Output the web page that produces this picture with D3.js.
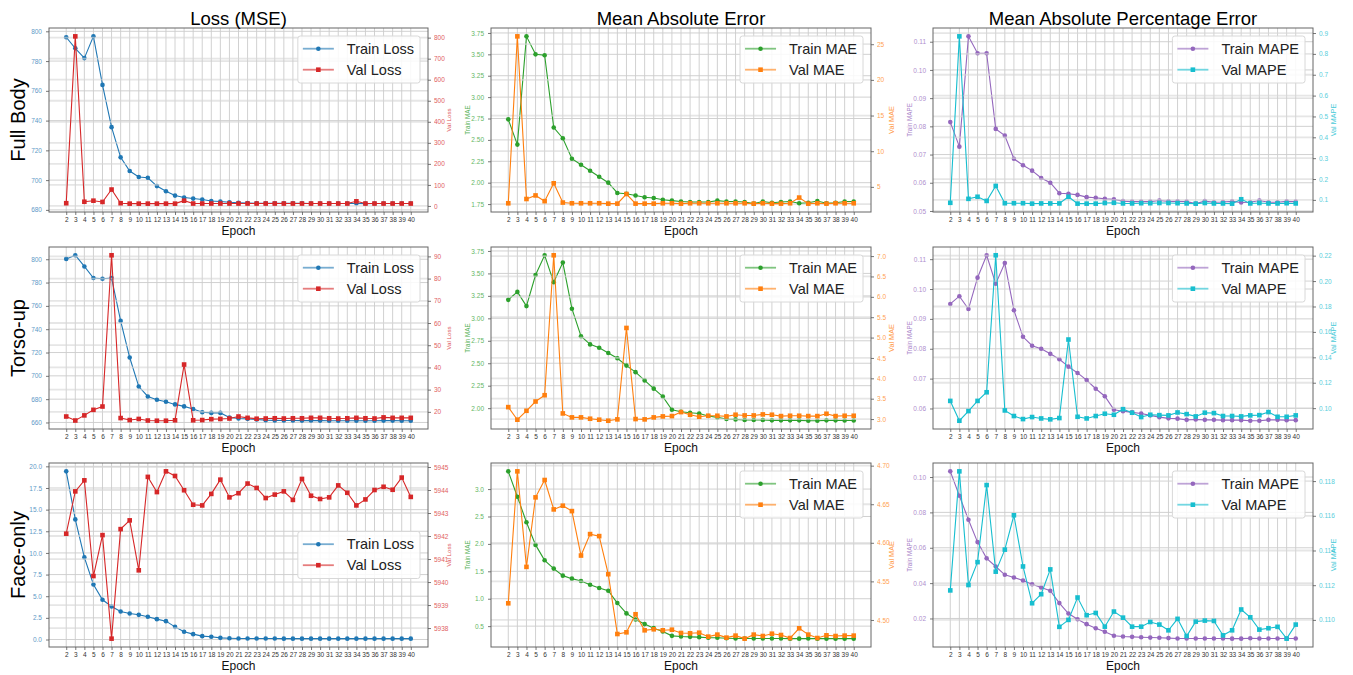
<!DOCTYPE html>
<html lang="en">
<head>
<meta charset="UTF-8">
<title>Training metrics</title>
<script src="https://cdn.jsdelivr.net/npm/d3@7"></script>
<style>
  body { margin: 0; background: #fff; }
  text { font-family: "Liberation Sans", Arial, sans-serif; }
</style>
</head>
<body>
<svg id="chart" width="1353" height="675"></svg>
<script>
const epochs = [2,3,4,5,6,7,8,9,10,11,12,13,14,15,16,17,18,19,20,21,22,23,24,25,26,27,28,29,30,31,32,33,34,35,36,37,38,39,40];

const rowNames = ['Full Body', 'Torso-up', 'Face-only'];
const colTitles = ['Loss (MSE)', 'Mean Absolute Error', 'Mean Absolute Percentage Error'];

// Full Body
const fullLossTrain = [796,788.6,782,796.6,764,735.6,715.3,706.1,702.1,701.6,696,692.5,689.6,688.3,687.6,687,686,685.6,685.1,684.8,684.6,684.5,684.5,684.4,684.4,684.4,684.4,684.3,684.3,684.3,684.3,684.3,684.3,684.2,684.3,684.3,684.3,684.3,684.3];
const fullLossVal = [13,806,20,25,19,78,13,11,11,11,11,11,11,25,11.5,11.5,11.5,11.5,11.5,11.5,11.5,11.5,11.5,11.5,11.5,11.5,11.5,11.5,11.5,11.5,11.5,11.5,22,11.5,11.5,11.5,11.5,11.5,11.5];
const fullMaeTrain = [2.74,2.445,3.71,3.5,3.49,2.645,2.52,2.28,2.21,2.14,2.07,2.0,1.88,1.87,1.85,1.83,1.82,1.8,1.79,1.78,1.775,1.775,1.775,1.79,1.78,1.78,1.775,1.755,1.78,1.765,1.775,1.78,1.76,1.765,1.785,1.76,1.765,1.78,1.78];
const fullMaeVal = [2.7,26.1,3.3,3.8,3.0,5.5,2.8,2.7,2.7,2.7,2.7,2.65,2.65,4.0,2.65,2.65,2.65,2.7,2.7,2.65,2.7,2.7,2.7,2.7,2.7,2.7,2.7,2.65,2.7,2.65,2.65,2.7,3.5,2.65,2.7,2.65,2.7,2.7,2.7];
const fullMapeTrain = [0.0815,0.0728,0.1119,0.1059,0.1059,0.0791,0.0767,0.0685,0.0662,0.0643,0.0617,0.06,0.0563,0.0561,0.0557,0.0549,0.0547,0.0543,0.0541,0.0535,0.0533,0.0533,0.0533,0.0537,0.0534,0.0534,0.0533,0.0526,0.0535,0.0531,0.0532,0.0534,0.053,0.0531,0.0537,0.0531,0.0531,0.0534,0.0533];
const fullMapeVal = [0.086,0.884,0.105,0.115,0.095,0.167,0.084,0.084,0.084,0.082,0.083,0.083,0.083,0.115,0.082,0.082,0.082,0.085,0.086,0.083,0.083,0.084,0.084,0.085,0.085,0.084,0.083,0.082,0.085,0.083,0.083,0.082,0.103,0.083,0.085,0.083,0.083,0.084,0.083];

// Torso-up
const torsoLossTrain = [800.3,803.4,793.8,783.9,783.3,783.9,747.1,715.7,690.8,682.3,679.5,677.8,675.5,673.8,671.6,668.8,668.2,668.2,664.2,663.4,663.1,662.5,662.0,661.8,661.7,661.7,661.6,661.7,661.6,661.5,661.5,661.5,661.5,661.5,661.5,661.6,661.6,661.5,661.5];
const torsoLossVal = [17.9,16.1,18.4,20.9,22.4,90.5,17.2,16.3,16.8,16.1,16.0,16.0,16.2,41.3,16.2,16.3,16.7,16.8,17.0,17.9,17.3,16.9,17.0,17.1,17.0,17.1,17.1,17.3,17.3,17.1,17.0,17.1,17.3,17.1,17.0,17.5,17.3,17.3,17.3];
const torsoMaeTrain = [3.206,3.294,3.136,3.482,3.702,3.401,3.621,3.107,2.801,2.71,2.673,2.614,2.555,2.474,2.401,2.309,2.217,2.129,1.982,1.96,1.949,1.941,1.912,1.897,1.879,1.875,1.868,1.868,1.868,1.864,1.864,1.864,1.864,1.86,1.86,1.864,1.864,1.862,1.862];
const torsoMaeVal = [3.293,2.984,3.203,3.431,3.585,7.02,3.138,3.041,3.041,3.008,2.984,2.959,2.992,5.236,3.0,2.992,3.041,3.065,3.073,3.171,3.106,3.057,3.081,3.081,3.065,3.106,3.089,3.089,3.114,3.106,3.073,3.081,3.081,3.073,3.073,3.13,3.073,3.081,3.081];
const torsoMapeTrain = [0.095,0.0976,0.0933,0.1038,0.1113,0.1018,0.1087,0.0929,0.084,0.081,0.08,0.0783,0.0765,0.074,0.0719,0.0695,0.0666,0.0641,0.0596,0.0591,0.0587,0.0583,0.0577,0.0571,0.0567,0.0566,0.0562,0.0563,0.0562,0.0562,0.0561,0.0561,0.0561,0.0559,0.0559,0.0562,0.0562,0.0561,0.0561];
const torsoMapeVal = [0.1057,0.0901,0.0977,0.1057,0.1125,0.2203,0.0982,0.0938,0.0914,0.093,0.0919,0.0912,0.0922,0.154,0.0932,0.0919,0.0938,0.0956,0.0948,0.0992,0.0964,0.093,0.0948,0.0945,0.0943,0.0966,0.0953,0.0935,0.0964,0.0961,0.0938,0.0938,0.0935,0.0943,0.0945,0.0969,0.0932,0.0932,0.0943];

// Face-only
const faceLossTrain = [19.42,13.87,9.48,6.36,4.59,3.82,3.24,3.01,2.85,2.62,2.35,2.12,1.46,0.89,0.62,0.39,0.31,0.19,0.15,0.12,0.11,0.11,0.11,0.11,0.1,0.1,0.1,0.1,0.1,0.1,0.1,0.1,0.1,0.1,0.1,0.1,0.1,0.1,0.1];
const faceLossVal = [5942.10,5943.94,5944.42,5940.26,5942.04,5937.54,5942.30,5942.68,5940.51,5944.57,5943.91,5944.81,5944.61,5943.99,5943.36,5943.33,5943.83,5944.45,5943.68,5943.86,5944.28,5944.09,5943.65,5943.80,5943.94,5943.57,5944.48,5943.75,5943.61,5943.68,5944.20,5943.88,5943.33,5943.59,5944.00,5944.14,5944.01,5944.54,5943.70];
const faceMaeTrain = [3.323,2.86,2.396,1.982,1.701,1.549,1.421,1.366,1.323,1.256,1.195,1.146,0.921,0.732,0.622,0.537,0.463,0.402,0.323,0.311,0.305,0.299,0.287,0.287,0.28,0.274,0.274,0.274,0.274,0.274,0.274,0.272,0.272,0.274,0.272,0.272,0.272,0.272,0.272];
const faceMaeVal = [4.5216,4.6926,4.5688,4.6589,4.6814,4.6433,4.6481,4.6411,4.5835,4.6113,4.6087,4.5593,4.4818,4.484,4.5074,4.4866,4.4879,4.4866,4.4874,4.4831,4.4827,4.4835,4.4784,4.481,4.4771,4.4797,4.4758,4.481,4.4792,4.4822,4.4805,4.4766,4.4892,4.481,4.4766,4.4801,4.4792,4.4797,4.4797];
const faceMapeTrain = [0.1032,0.0894,0.0758,0.0632,0.054,0.0494,0.0447,0.0432,0.0415,0.0394,0.0375,0.0357,0.0287,0.0228,0.0196,0.0168,0.0145,0.0125,0.0102,0.0098,0.0096,0.0094,0.0092,0.0091,0.0089,0.0087,0.0087,0.0087,0.0087,0.0087,0.0087,0.0086,0.0086,0.0088,0.0087,0.0087,0.0087,0.0087,0.0087];
const faceMapeVal = [0.1117,0.11856,0.11201,0.11333,0.11777,0.11278,0.11405,0.11603,0.11308,0.11096,0.11148,0.11291,0.1096,0.11,0.11129,0.11027,0.1104,0.10961,0.11048,0.11013,0.10961,0.10961,0.10988,0.10973,0.1094,0.11006,0.10907,0.1099,0.10996,0.10994,0.10911,0.1094,0.1106,0.11015,0.10944,0.10952,0.1096,0.10892,0.10973];

// tick values per panel
const fullLossTicks = [680,700,720,740,760,780,800];
const fullValLossTicks = [0,100,200,300,400,500,600,700,800];
const fullMaeTicks = [1.75,2.0,2.25,2.5,2.75,3.0,3.25,3.5,3.75];
const fullValMaeTicks = [5,10,15,20,25];
const fullMapeTicks = [0.05,0.06,0.07,0.08,0.09,0.10,0.11];
const fullValMapeTicks = [0.1,0.2,0.3,0.4,0.5,0.6,0.7,0.8,0.9];
const torsoLossTicks = [660,680,700,720,740,760,780,800];
const torsoValLossTicks = [20,30,40,50,60,70,80,90];
const torsoMaeTicks = [2.0,2.25,2.5,2.75,3.0,3.25,3.5,3.75];
const torsoValMaeTicks = [3.0,3.5,4.0,4.5,5.0,5.5,6.0,6.5,7.0];
const torsoMapeTicks = [0.06,0.07,0.08,0.09,0.10,0.11];
const torsoValMapeTicks = [0.10,0.12,0.14,0.16,0.18,0.20,0.22];
const faceLossTicks = [0,2.5,5,7.5,10,12.5,15,17.5,20];
const faceValLossTicks = [5938,5939,5940,5941,5942,5943,5944,5945];
const faceMaeTicks = [0.5,1.0,1.5,2.0,2.5,3.0];
const faceValMaeTicks = [4.50,4.55,4.60,4.65,4.70];
const faceMapeTicks = [0.02,0.04,0.06,0.08,0.10];
const faceValMapeTicks = [0.110,0.112,0.114,0.116,0.118];

const kinds = [
  { train: 'Train Loss', val: 'Val Loss', cTrain: '#1f77b4', cVal: '#d62728' },
  { train: 'Train MAE', val: 'Val MAE', cTrain: '#2ca02c', cVal: '#ff7f0e' },
  { train: 'Train MAPE', val: 'Val MAPE', cTrain: '#9467bd', cVal: '#17becf' }
];

const panels = [
  { row: 0, col: 0, train: fullLossTrain, val: fullLossVal, lt: fullLossTicks, rt: fullValLossTicks, lf: 'd', rf: 'd' },
  { row: 0, col: 1, train: fullMaeTrain, val: fullMaeVal, lt: fullMaeTicks, rt: fullValMaeTicks, lf: '.2f', rf: 'd' },
  { row: 0, col: 2, train: fullMapeTrain, val: fullMapeVal, lt: fullMapeTicks, rt: fullValMapeTicks, lf: '.2f', rf: '.1f' },
  { row: 1, col: 0, train: torsoLossTrain, val: torsoLossVal, lt: torsoLossTicks, rt: torsoValLossTicks, lf: 'd', rf: 'd' },
  { row: 1, col: 1, train: torsoMaeTrain, val: torsoMaeVal, lt: torsoMaeTicks, rt: torsoValMaeTicks, lf: '.2f', rf: '.1f' },
  { row: 1, col: 2, train: torsoMapeTrain, val: torsoMapeVal, lt: torsoMapeTicks, rt: torsoValMapeTicks, lf: '.2f', rf: '.2f' },
  { row: 2, col: 0, train: faceLossTrain, val: faceLossVal, lt: faceLossTicks, rt: faceValLossTicks, lf: '.1f', rf: 'd', legendMid: true },
  { row: 2, col: 1, train: faceMaeTrain, val: faceMaeVal, lt: faceMaeTicks, rt: faceValMaeTicks, lf: '.1f', rf: '.2f' },
  { row: 2, col: 2, train: faceMapeTrain, val: faceMapeVal, lt: faceMapeTicks, rt: faceValMapeTicks, lf: '.2f', rf: '.3f' }
];

const colX = [[49, 428], [491, 871], [933, 1313]];
const rowY = [[28, 212], [247, 429], [463, 647]];

const svg = d3.select('#chart');

// matplotlib style autoscale: 5% margin each side
function padDomain(vals) {
  const [lo, hi] = d3.extent(vals);
  const m = (hi - lo) * 0.05;
  return [lo - m, hi + m];
}

function styleAxis(sel, color) {
  sel.select('.domain').remove();
  sel.selectAll('line').attr('stroke', '#555').attr('stroke-width', 0.8);
  sel.selectAll('text').attr('fill', color).attr('font-size', 6.5)
    .attr('font-family', '"Liberation Sans", Arial, sans-serif');
}

panels.forEach(p => {
  const kind = kinds[p.col];
  const [x0, x1] = colX[p.col];
  const [y0, y1] = rowY[p.row];
  const g = svg.append('g');

  const x = d3.scaleLinear().domain([0.1, 41.9]).range([x0, x1]);
  const yL = d3.scaleLinear().domain(padDomain(p.train)).range([y1, y0]);
  const yR = d3.scaleLinear().domain(padDomain(p.val)).range([y1, y0]);

  // grids
  g.append('g').selectAll('line').data(epochs).join('line')
    .attr('x1', d => x(d)).attr('x2', d => x(d)).attr('y1', y0).attr('y2', y1)
    .attr('stroke', '#cccccc').attr('stroke-width', 0.9);
  g.append('g').selectAll('line').data(p.lt).join('line')
    .attr('x1', x0).attr('x2', x1).attr('y1', d => yL(d)).attr('y2', d => yL(d))
    .attr('stroke', '#cccccc').attr('stroke-width', 0.9);

  // train series
  g.append('path').datum(p.train)
    .attr('fill', 'none').attr('stroke', kind.cTrain).attr('stroke-width', 1.1)
    .attr('d', d3.line().x((d, i) => x(epochs[i])).y(d => yL(d)));
  g.append('g').selectAll('circle').data(p.train).join('circle')
    .attr('cx', (d, i) => x(epochs[i])).attr('cy', d => yL(d)).attr('r', 2.3)
    .attr('fill', kind.cTrain);

  // twin axis grid + val series
  g.append('g').selectAll('line').data(p.rt).join('line')
    .attr('x1', x0).attr('x2', x1).attr('y1', d => yR(d)).attr('y2', d => yR(d))
    .attr('stroke', '#d6d6d6').attr('stroke-width', 1.8).attr('opacity', 0.6);
  g.append('path').datum(p.val)
    .attr('fill', 'none').attr('stroke', kind.cVal).attr('stroke-width', 1.1)
    .attr('d', d3.line().x((d, i) => x(epochs[i])).y(d => yR(d)));
  g.append('g').selectAll('rect').data(p.val).join('rect')
    .attr('x', (d, i) => x(epochs[i]) - 2.3).attr('y', d => yR(d) - 2.3)
    .attr('width', 4.6).attr('height', 4.6).attr('fill', kind.cVal);

  // frame
  g.append('rect').attr('x', x0).attr('y', y0).attr('width', x1 - x0).attr('height', y1 - y0)
    .attr('fill', 'none').attr('stroke', '#666').attr('stroke-width', 1);

  // axes
  g.append('g').attr('transform', `translate(0,${y1})`)
    .call(d3.axisBottom(x).tickValues(epochs).tickFormat(d3.format('d')).tickSize(3).tickPadding(2))
    .call(s => styleAxis(s, '#333'));
  g.append('g').attr('transform', `translate(${x0},0)`)
    .call(d3.axisLeft(yL).tickValues(p.lt).tickFormat(d3.format(p.lf)).tickSize(3).tickPadding(4))
    .call(s => styleAxis(s, kind.cTrain)).selectAll('text').attr('opacity', 0.75);
  g.append('g').attr('transform', `translate(${x1},0)`)
    .call(d3.axisRight(yR).tickValues(p.rt).tickFormat(d3.format(p.rf)).tickSize(3).tickPadding(3))
    .call(s => styleAxis(s, kind.cVal)).selectAll('text').attr('opacity', 0.75);

  // axis labels
  const midY = (y0 + y1) / 2;
  if (p.col > 0) {
    g.append('text').attr('transform', `translate(${x0 - 21},${midY}) rotate(-90)`)
      .attr('text-anchor', 'middle').attr('font-size', 6.3).attr('fill', kind.cTrain).attr('opacity', 0.8)
      .text(kind.train);
  }
  g.append('text').attr('transform', `translate(${x1 + 23},${midY}) rotate(-90)`)
    .attr('text-anchor', 'middle').attr('font-size', p.col === 0 ? 6.2 : 7.3).attr('fill', kind.cVal).attr('opacity', 0.8)
    .text(kind.val);

  g.append('text').attr('x', (x0 + x1) / 2).attr('y', y1 + 22.5)
    .attr('text-anchor', 'middle').attr('font-size', 12).attr('fill', '#111').text('Epoch');

  if (p.row === 0) {
    g.append('text').attr('x', (x0 + x1) / 2).attr('y', 25)
      .attr('text-anchor', 'middle').attr('font-size', 18.5).attr('fill', '#000').text(colTitles[p.col]);
  }
  if (p.col === 0) {
    g.append('text').attr('transform', `translate(25,${midY}) rotate(-90)`)
      .attr('text-anchor', 'middle').attr('font-size', 20).attr('fill', '#000').text(rowNames[p.row]);
  }

  // legend
  const lg = g.append('g');
  const box = lg.append('rect').attr('rx', 2.5).attr('fill', '#fff').attr('fill-opacity', 0.85)
    .attr('stroke', '#d8d8d8').attr('stroke-width', 1);
  const entries = [
    { label: kind.train, color: kind.cTrain, shape: 'circle' },
    { label: kind.val, color: kind.cVal, shape: 'square' }
  ];
  let maxW = 0;
  entries.forEach((e, i) => {
    const ey = 12.7 + i * 21;
    lg.append('line').attr('x1', 5).attr('x2', 36).attr('y1', ey).attr('y2', ey)
      .attr('stroke', e.color).attr('stroke-width', 1.8).attr('opacity', 0.6);
    if (e.shape === 'circle') {
      lg.append('circle').attr('cx', 20.5).attr('cy', ey).attr('r', 2.3).attr('fill', e.color);
    } else {
      lg.append('rect').attr('x', 18.2).attr('y', ey - 2.3).attr('width', 4.6).attr('height', 4.6).attr('fill', e.color);
    }
    const t = lg.append('text').attr('x', 49).attr('y', ey + 5).attr('font-size', 14.5)
      .attr('fill', '#222').text(e.label);
    maxW = Math.max(maxW, t.node().getComputedTextLength());
  });
  const bw = 49 + maxW + 6, bh = 47;
  box.attr('width', bw).attr('height', bh);
  const lx = x1 - 8 - bw;
  const ly = p.legendMid ? midY - bh / 2 : y0 + 8;
  lg.attr('transform', `translate(${lx},${ly})`);
});
</script>
</body>
</html>
